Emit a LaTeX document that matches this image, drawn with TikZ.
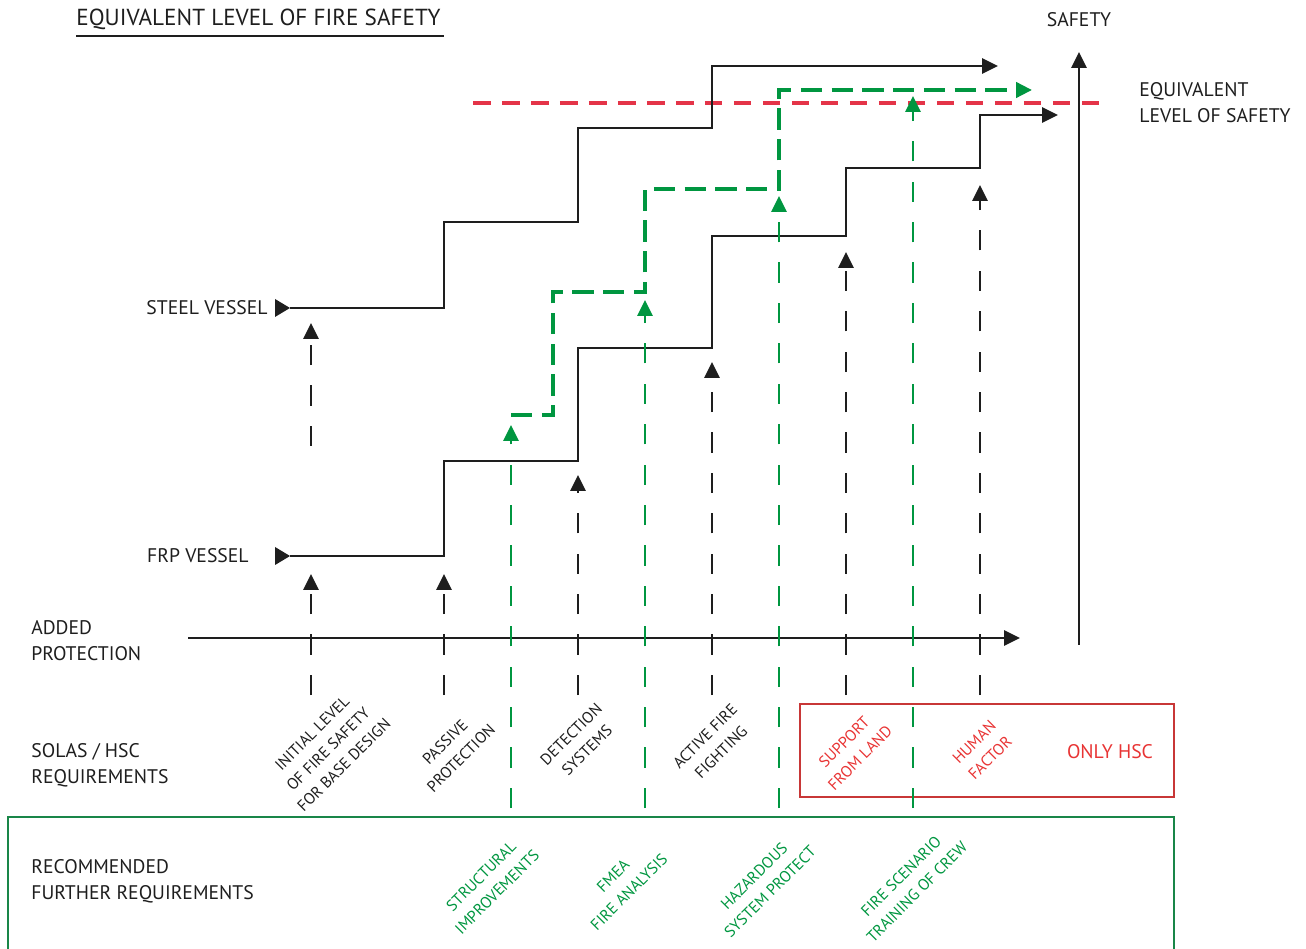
\documentclass[tikz,border=0pt]{standalone}
\usepackage{fontspec}
\setmainfont{PT Sans}
\usetikzlibrary{arrows.meta}
\definecolor{fgreen}{RGB}{0,150,64}
\definecolor{fred}{RGB}{228,52,72}
\definecolor{boxred}{RGB}{200,55,55}
\definecolor{txtred}{RGB}{232,52,52}
\definecolor{ink}{RGB}{30,30,30}
\begin{document}
\begin{tikzpicture}[x=0.02cm,y=-0.02cm,
 lbl/.style={font=\fontsize{11.2}{14.7}\selectfont, text=ink, align=left, inner sep=0},
 rot/.style={font=\fontsize{9}{12.8}\selectfont, align=center, rotate=45, inner sep=0},
 stair/.style={draw=ink, line width=1.1pt},
 tip/.style={-{Triangle[length=9pt,width=8.6pt]}},
 vdash/.style={draw=ink, line width=1.1pt, dash pattern=on 11.5pt off 11.5pt},
 gdash/.style={draw=fgreen, line width=1.1pt, dash pattern=on 11.5pt off 11.5pt},
 gstair/.style={draw=fgreen, line width=2pt, dash pattern=on 12pt off 5.5pt},
 rdash/.style={draw=fred, line width=2pt, dash pattern=on 10pt off 6.5pt},
]
\useasboundingbox (0,0) rectangle (1306,949);

% title
\node[lbl, anchor=west, font=\fontsize{13.2}{16}\selectfont] (title) at (76,19) {EQUIVALENT LEVEL OF FIRE SAFETY};
\coordinate (ul0) at (76,36);
\coordinate (ul1) at (444,36);
\draw[ink, line width=1.2pt] (ul0) -- (ul1);

% left labels
\node[lbl, anchor=west] (added) at (31,641) {ADDED\\PROTECTION};
\node[lbl, anchor=west] (solas) at (31,765) {SOLAS / HSC\\REQUIREMENTS};
\node[lbl, anchor=west] (recom) at (31,881) {RECOMMENDED\\FURTHER REQUIREMENTS};
\node[lbl, anchor=east] (steel) at (268,308) {STEEL VESSEL};
\node[lbl, anchor=east] (frp) at (249,556) {FRP VESSEL};
\node[lbl] (safety) at (1079,20) {SAFETY};
\node[lbl, anchor=west] (els) at (1139,103) {EQUIVALENT\\LEVEL OF SAFETY};

% boxes
\coordinate (rb0) at (800,704);
\coordinate (rb1) at (1174,797);
\draw[boxred, line width=1.3pt] (rb0) rectangle (rb1);
\coordinate (gb0) at (8,949);
\coordinate (gb1) at (8,817);
\coordinate (gb2) at (1174,817);
\coordinate (gb3) at (1174,949);
\draw[fgreen!80!black!90, line width=1pt] (gb0) -- (gb1) -- (gb2) -- (gb3);

% axes
\coordinate (ax0) at (188,638);
\coordinate (ax1) at (1020,638);
\draw[stair, tip] (ax0) -- (ax1);
\coordinate (sa0) at (1079,645);
\coordinate (sa1) at (1079,52);
\draw[stair, tip] (sa0) -- (sa1);

% red equivalent line
\coordinate (r0) at (473,103);
\coordinate (r1) at (1103,103);
\draw[rdash] (r0) -- (r1);

% vessel markers
\fill[ink] (275,299) -- (290,308) -- (275,317) -- cycle;
\fill[ink] (275,547) -- (290,556) -- (275,565) -- cycle;

% steel staircase
\coordinate (s0) at (290,308);
\coordinate (s1) at (998,66);
\draw[stair, tip] (s0) -- (444,308) -- (444,222) -- (578,222) -- (578,128) -- (712,128) -- (712,66) -- (s1);

% frp staircase
\coordinate (f0) at (290,556);
\coordinate (f1) at (1058,115);
\draw[stair, tip] (f0) -- (444,556) -- (444,461) -- (578,461) -- (578,348) -- (712,348) -- (712,236) -- (846,236) -- (846,168) -- (980,168) -- (980,115) -- (f1);

% green staircase
\coordinate (gs0) at (511,415);
\coordinate (gs1) at (1032,90);
\draw[gstair, -{Triangle[length=9pt,width=8.6pt]}, fgreen] (gs0) -- (553,415) -- (553,292) -- (645,292) -- (645,189) -- (779,189) -- (779,90) -- (gs1);

% black dashed arrows
\foreach \n/\x/\yb/\yt in {b1/311/695/574, b2/444/695/574, b3/578/695/475, b4/712/695/362, b5/846/695/252, b6/980/695/185, bs/311/446/323}{
  \coordinate (\n-0) at (\x,\yb);
  \coordinate (\n-1) at (\x,\yt);
  \draw[vdash, tip, ink] (\n-0) -- (\n-1);
}
% green dashed arrows
\foreach \n/\x/\yt in {g1/511/425, g2/645/300, g3/779/196, g4/913/96}{
  \coordinate (\n-0) at (\x,808);
  \coordinate (\n-1) at (\x,\yt);
  \draw[gdash, tip, fgreen] (\n-0) -- (\n-1);
}

% rotated labels (black)
\node[rot, text=ink] (l1) at (328,749) {INITIAL LEVEL\\OF FIRE SAFETY\\FOR BASE DESIGN};
\node[rot, text=ink] (l2) at (453,750) {PASSIVE\\PROTECTION};
\node[rot, text=ink] (l3) at (579,742) {DETECTION\\SYSTEMS};
\node[rot, text=ink] (l4) at (713,744) {ACTIVE FIRE\\FIGHTING};
% red
\node[rot, text=txtred] (l5) at (852,750) {SUPPORT\\FROM LAND};
\node[rot, text=txtred] (l6) at (982,750) {HUMAN\\FACTOR};
\node[lbl, text=txtred] (hsc) at (1110,752) {ONLY HSC};
% green
\node[rot, text=fgreen] (l7) at (489,884) {STRUCTURAL\\IMPROVEMENTS};
\node[rot, text=fgreen] (l8) at (621,884) {FMEA\\FIRE ANALYSIS};
\node[rot, text=fgreen] (l9) at (762,884) {HAZARDOUS\\SYSTEM PROTECT};
\node[rot, text=fgreen] (l10) at (909,884) {FIRE SCENARIO\\TRAINING OF CREW};
\end{tikzpicture}
\end{document}
